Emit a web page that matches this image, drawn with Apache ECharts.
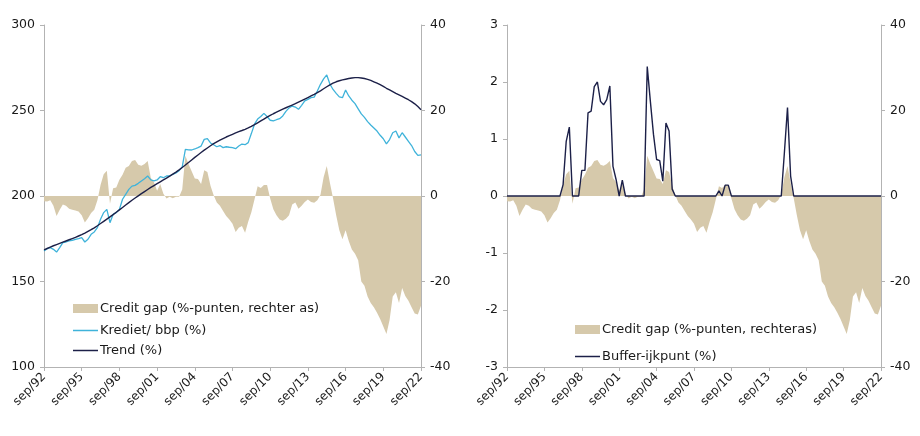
<!DOCTYPE html>
<html><head><meta charset="utf-8">
<script src="https://cdn.jsdelivr.net/npm/echarts@6/dist/echarts.min.js"></script>
<style>html,body{margin:0;padding:0;background:#fff}#c{width:920px;height:436px}</style>
</head><body><div id="c"></div><script>
// Quarterly categories sep/92 .. sep/22
const monthNames = ['mrt', 'jun', 'sep', 'dec'];
const startYear = 1992, startQuarter = 2, nQuarters = 121;
const categories = [];
for (let k = 0; k < nQuarters; k++) {
  const q = (startQuarter + k) % 4;
  const y = startYear + Math.floor((startQuarter + k) / 4);
  categories.push(monthNames[q] + '/' + String(y % 100).padStart(2, '0'));
}

// Credit gap (%-points, right axis)
const creditGap = [
  -1.2, -1.3, -1.0, -2.3, -4.7, -3.2, -2.0, -2.3, -3.0, -3.2,
  -3.4, -3.6, -4.5, -6.2, -5.2, -4.0, -3.2, -1.0, 2.6, 5.1,
  5.9, -1.8, 1.8, 2.0, 3.8, 5.0, 6.6, 7.0, 8.2, 8.4,
  7.3, 7.1, 7.5, 8.2, 4.2, 3.2, 1.2, 2.8, 0.5, -0.6,
  -0.2, -0.5, -0.2, -0.2, 1.5, 9.4, 7.5, 5.8, 4.1, 4.0,
  2.8, 6.0, 5.6, 2.4, 0.2, -1.5, -2.3, -3.5, -4.7, -5.5,
  -6.5, -8.4, -7.4, -7.0, -8.6, -6.0, -3.8, -0.8, 2.3, 1.9,
  2.6, 2.6, -0.6, -3.1, -4.5, -5.5, -5.8, -5.3, -4.5, -2.0,
  -1.5, -3.0, -2.3, -1.4, -0.8, -1.4, -1.6, -1.0, 0.3, 4.4,
  7.0, 3.1, -0.5, -4.5, -8.0, -10.1, -8.0, -10.5, -12.5, -13.5,
  -15.0, -20.0, -21.0, -23.5, -25.0, -26.0, -27.3, -28.8, -30.5, -32.3,
  -29.0, -23.5, -22.5, -25.0, -21.5, -23.4, -24.5, -26.0, -27.5, -27.7,
  -25.7
];

// Krediet / bbp (%)
const krediet = [
  167.8, 169.2, 169.8, 168.8, 167.2, 169.8, 172.7, 173.1, 173.7, 174.1,
  174.7, 175.1, 175.6, 173.1, 174.7, 177.6, 179.0, 181.5, 186.4, 190.3,
  192.2, 184.4, 189.3, 190.3, 192.2, 198.1, 201.0, 203.9, 205.8, 206.2,
  207.4, 208.8, 210.1, 211.7, 209.4, 208.8, 209.4, 211.3, 210.7, 211.7,
  211.7, 212.7, 213.5, 214.8, 217.0, 227.3, 227.0, 226.9, 227.5, 228.3,
  229.2, 233.1, 233.5, 231.0, 230.0, 228.8, 229.5, 228.3, 228.8, 228.5,
  228.3, 227.7, 229.2, 230.4, 230.0, 231.2, 236.5, 242.0, 245.0, 246.5,
  248.3, 246.5, 244.3, 243.9, 244.6, 245.2, 246.8, 249.5, 251.5, 252.6,
  252.0, 250.7, 253.0, 255.6, 256.5, 257.5, 257.8, 261.4, 265.3, 268.5,
  270.8, 265.5, 262.3, 260.0, 258.0, 257.5, 262.0, 258.5, 256.0, 254.0,
  251.0, 248.0, 246.0, 243.5, 241.5, 239.8, 238.0, 235.5, 233.5, 230.5,
  233.0, 237.0, 238.0, 234.0, 237.0, 234.5, 232.0, 229.5, 226.0, 223.8,
  224.0
];

// Trend (%)
const trend = [
  168.5, 169.3, 170.1, 170.9, 171.6, 172.3, 173.0, 173.7, 174.4, 175.1,
  175.8, 176.6, 177.4, 178.3, 179.3, 180.3, 181.4, 182.6, 183.9, 185.2,
  186.5, 187.8, 189.1, 190.5, 191.9, 193.3, 194.7, 196.1, 197.5, 198.8,
  200.1, 201.4, 202.6, 203.8, 205.0, 206.1, 207.2, 208.3, 209.4, 210.5,
  211.6, 212.8, 214.0, 215.3, 216.7, 218.1, 219.6, 221.1, 222.6, 224.0,
  225.4, 226.8, 228.1, 229.4, 230.6, 231.7, 232.7, 233.6, 234.5, 235.3,
  236.1, 236.9, 237.6, 238.3, 239.0, 239.8, 240.7, 241.7, 242.8, 243.9,
  245.0, 246.1, 247.1, 248.1, 249.0, 249.9, 250.8, 251.6, 252.4, 253.2,
  254.0, 254.9, 255.8, 256.7, 257.6, 258.5, 259.4, 260.4, 261.5, 262.7,
  263.9, 265.0, 266.0, 266.8, 267.4, 267.9, 268.3, 268.7, 269.0, 269.2,
  269.2, 269.0, 268.7, 268.2, 267.6, 266.8, 266.0, 265.1, 264.1, 263.0,
  262.0, 261.0, 260.0, 259.1, 258.2, 257.3, 256.3, 255.2, 253.9, 252.3,
  250.5
];

// Buffer-ijkpunt (%)
const buffer = [
  0, 0, 0, 0, 0, 0, 0, 0, 0, 0,
  0, 0, 0, 0, 0, 0, 0, 0, 0.2, 0.96,
  1.21, 0, 0, 0, 0.45, 0.45, 1.46, 1.49, 1.92, 2.0,
  1.66, 1.6, 1.69, 1.93, 0.52, 0.29, 0, 0.28, 0, 0,
  0, 0, 0, 0, 0, 2.27, 1.66, 1.08, 0.64, 0.62,
  0.26, 1.28, 1.14, 0.12, 0, 0, 0, 0, 0, 0,
  0, 0, 0, 0, 0, 0, 0, 0, 0.09, 0,
  0.19, 0.19, 0, 0, 0, 0, 0, 0, 0, 0,
  0, 0, 0, 0, 0, 0, 0, 0, 0, 0.76,
  1.55, 0.35, 0, 0, 0, 0, 0, 0, 0, 0,
  0, 0, 0, 0, 0, 0, 0, 0, 0, 0,
  0, 0, 0, 0, 0, 0, 0, 0, 0, 0,
  0
];

const leftTicks = { min: 100, max: 300, interval: 50 };
const gapTicks = { min: -40, max: 40, interval: 20 };
const bufferTicks = { min: -3, max: 3, interval: 1 };

const names = {
  gapL: 'Credit gap (%-punten, rechter as)',
  kred: 'Krediet/ bbp (%)',
  trend: 'Trend (%)',
  gapR: 'Credit gap (%-punten, rechteras)',
  buf: 'Buffer-ijkpunt (%)'
};

const FONT = 'DejaVu Sans';
const TXT = '#1a1a1a';
const AXC = '#b3b3b3';
const GAPC = '#d6c9ab';
const KREDC = '#3fb3da';
const NAVY = '#1c2048';

function xAxis(gi) {
  return {
    type: 'category', gridIndex: gi, data: categories, boundaryGap: false,
    axisLine: { show: true, onZero: false, lineStyle: { color: AXC, width: 1 } },
    axisTick: { show: true, interval: 11, length: 4, lineStyle: { color: AXC } },
    axisLabel: { interval: 11, rotate: 45, margin: 8, color: TXT, fontFamily: FONT, fontSize: 12 },
    splitLine: { show: false }
  };
}
function yAxis(gi, pos, t) {
  return {
    type: 'value', gridIndex: gi, position: pos, min: t.min, max: t.max, interval: t.interval,
    axisLine: { show: true, lineStyle: { color: AXC, width: 1 } },
    axisTick: { show: true, length: 4, lineStyle: { color: AXC } },
    axisLabel: { margin: 9, color: TXT, fontFamily: FONT, fontSize: 12.5 },
    splitLine: { show: false }
  };
}
function legend(left, top, data, h, gap) {
  return {
    left: left, top: top, orient: 'vertical', itemWidth: 25, itemHeight: h, itemGap: gap,
    icon: 'rect', selectedMode: false,
    textStyle: { color: TXT, fontFamily: FONT, fontSize: 13, padding: [0, 0, 0, -3] },
    data: data
  };
}

const chart = echarts.init(document.getElementById('c'), null, { renderer: 'canvas' });
chart.setOption({
  animation: false,
  backgroundColor: '#ffffff',
  grid: [
    { left: 44, right: 499, top: 25, bottom: 69 },
    { left: 507, right: 39, top: 25, bottom: 69 }
  ],
  xAxis: [xAxis(0), xAxis(1)],
  yAxis: [
    yAxis(0, 'left', leftTicks), yAxis(0, 'right', gapTicks),
    yAxis(1, 'left', bufferTicks), yAxis(1, 'right', gapTicks)
  ],
  legend: [
    legend(68, 297, [names.gapL], 9, 7),
    legend(68, 319, [names.kred, names.trend], 1.5, 7),
    legend(570, 318, [names.gapR], 9, 7),
    legend(570, 345, [names.buf], 1.5, 7)
  ],
  series: [
    { name: names.gapL, type: 'line', xAxisIndex: 0, yAxisIndex: 1, data: creditGap,
      symbol: 'none', lineStyle: { width: 0, color: GAPC }, itemStyle: { color: GAPC },
      areaStyle: { color: GAPC, opacity: 1 }, z: 1 },
    { name: names.kred, type: 'line', xAxisIndex: 0, yAxisIndex: 0, data: krediet,
      symbol: 'none', lineStyle: { width: 1.3, color: KREDC }, itemStyle: { color: KREDC }, z: 3 },
    { name: names.trend, type: 'line', xAxisIndex: 0, yAxisIndex: 0, data: trend,
      symbol: 'none', lineStyle: { width: 1.4, color: NAVY }, itemStyle: { color: NAVY }, z: 4 },
    { name: names.gapR, type: 'line', xAxisIndex: 1, yAxisIndex: 3, data: creditGap,
      symbol: 'none', lineStyle: { width: 0, color: GAPC }, itemStyle: { color: GAPC },
      areaStyle: { color: GAPC, opacity: 1 }, z: 1 },
    { name: names.buf, type: 'line', xAxisIndex: 1, yAxisIndex: 2, data: buffer,
      symbol: 'none', lineStyle: { width: 1.4, color: NAVY }, itemStyle: { color: NAVY }, z: 4 }
  ]
});
</script></body></html>
